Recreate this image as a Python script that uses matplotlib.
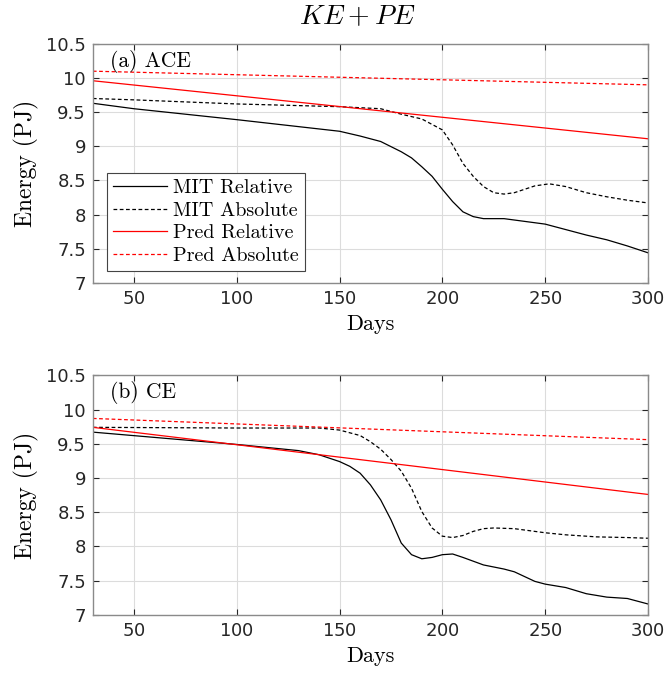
import matplotlib
matplotlib.use('Agg')
import matplotlib.pyplot as plt

plt.rcParams.update({
    'font.family': 'serif', 'font.serif': ['cmr10'], 'mathtext.fontset': 'cm',
    'axes.formatter.use_mathtext': True, 'axes.unicode_minus': False,
    'font.size': 12,
})

BOX = '#262626'

# (a) ACE
ace_mit_rel_x = [30, 50, 100, 150, 160, 170, 180, 185, 190, 195, 200, 205, 210, 215, 220, 230,
                 240, 250, 260, 270, 280, 290, 300]
ace_mit_rel_y = [9.63, 9.55, 9.39, 9.22, 9.15, 9.07, 8.92, 8.83, 8.70, 8.56, 8.37, 8.19, 8.04,
                 7.97, 7.94, 7.94, 7.90, 7.86, 7.78, 7.70, 7.63, 7.54, 7.44]
ace_mit_abs_x = [30, 50, 100, 150, 170, 180, 190, 200, 205, 210, 215, 220, 225, 230, 235, 240,
                 245, 252, 260, 270, 280, 290, 300]
ace_mit_abs_y = [9.70, 9.68, 9.62, 9.58, 9.55, 9.47, 9.40, 9.24, 9.02, 8.75, 8.56, 8.41, 8.32,
                 8.30, 8.32, 8.37, 8.42, 8.45, 8.41, 8.32, 8.26, 8.21, 8.17]
ace_pred_rel = ([30, 300], [9.96, 9.11])
ace_pred_abs = ([30, 300], [10.10, 9.90])

# (b) CE
ce_mit_rel_x = [30, 100, 130, 140, 150, 155, 160, 165, 170, 175, 180, 185, 190, 195, 200, 205,
                210, 220, 230, 235, 240, 245, 250, 260, 270, 280, 290, 300]
ce_mit_rel_y = [9.67, 9.49, 9.40, 9.34, 9.24, 9.17, 9.07, 8.90, 8.68, 8.39, 8.05, 7.88, 7.82,
                7.84, 7.88, 7.89, 7.84, 7.73, 7.67, 7.63, 7.56, 7.49, 7.45, 7.40, 7.31, 7.26,
                7.24, 7.16]
ce_mit_abs_x = [30, 100, 140, 150, 160, 165, 170, 175, 180, 185, 190, 195, 200, 205, 210, 215,
                220, 225, 235, 240, 250, 260, 275, 290, 300]
ce_mit_abs_y = [9.74, 9.73, 9.73, 9.70, 9.62, 9.53, 9.42, 9.27, 9.10, 8.85, 8.51, 8.27, 8.15,
                8.13, 8.16, 8.22, 8.26, 8.27, 8.26, 8.24, 8.20, 8.17, 8.14, 8.13, 8.12]
ce_pred_rel = ([30, 300], [9.74, 8.76])
ce_pred_abs = ([30, 300], [9.87, 9.56])

panels = [
    ('(a) ACE', (ace_mit_rel_x, ace_mit_rel_y), (ace_mit_abs_x, ace_mit_abs_y), ace_pred_rel, ace_pred_abs),
    ('(b) CE', (ce_mit_rel_x, ce_mit_rel_y), (ce_mit_abs_x, ce_mit_abs_y), ce_pred_rel, ce_pred_abs),
]

fig = plt.figure(figsize=(6.68, 6.75), dpi=100)
rects = [[0.139, 0.581, 0.831, 0.354], [0.139, 0.089, 0.831, 0.355]]

for i, (label, mr, ma, pr, pa) in enumerate(panels):
    ax = fig.add_axes(rects[i])
    ax.plot(*mr, color='black', lw=0.9, label='MIT Relative')
    ax.plot(*ma, color='black', lw=0.9, ls=(0, (3, 2)), label='MIT Absolute')
    ax.plot(*pr, color='#ff0000', lw=0.9, label='Pred Relative')
    ax.plot(*pa, color='#ff0000', lw=0.9, ls=(0, (3, 2)), label='Pred Absolute')
    ax.set_xlim(30, 300)
    ax.set_ylim(7, 10.5)
    ax.set_xticks([50, 100, 150, 200, 250, 300])
    ax.set_yticks([7, 7.5, 8, 8.5, 9, 9.5, 10, 10.5])
    ax.set_yticklabels(['7', '7.5', '8', '8.5', '9', '9.5', '10', '10.5'])
    for t in ax.get_xticklabels() + ax.get_yticklabels():
        t.set_fontfamily('DejaVu Sans')
    ax.grid(True, color='#dcdcdc', lw=0.8)
    ax.set_axisbelow(True)
    ax.tick_params(direction='in', top=True, right=True, length=4, width=0.8,
                   colors=BOX, labelcolor=BOX, labelsize=13, pad=5)
    for sp in ax.spines.values():
        sp.set_color('#8a8a8a')
        sp.set_linewidth(1.0)
    ax.set_xlabel('Days', fontsize=16, labelpad=5)
    ax.set_ylabel('Energy (PJ)', fontsize=17, labelpad=5)
    ax.text(0.03, 0.975, label, transform=ax.transAxes, ha='left', va='top', fontsize=15.5)
    if i == 0:
        leg = ax.legend(loc='lower left', bbox_to_anchor=(0.025, 0.05), fontsize=14.5,
                        fancybox=False, framealpha=1, edgecolor='#444444', borderpad=0.3,
                        labelspacing=0.22, handlelength=2.7, handletextpad=0.3,
                        borderaxespad=0)
        leg.get_frame().set_linewidth(0.8)

fig.text(0.535, 0.955, '$KE+PE$', ha='center', va='bottom', fontsize=20)

fig.savefig('out.png', dpi=100)
